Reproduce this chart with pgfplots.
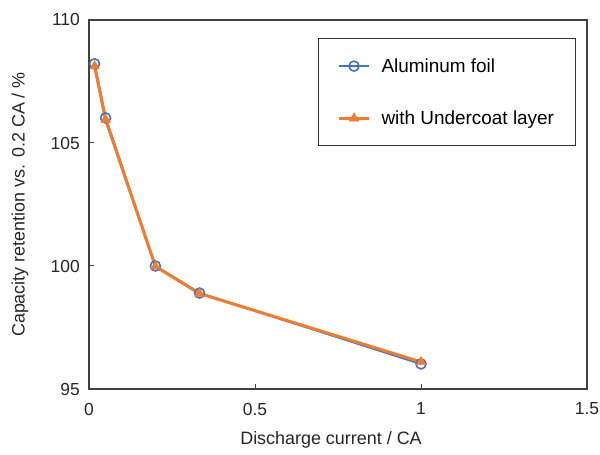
\documentclass[border=0pt]{standalone}
\usepackage{pgfplots}
\pgfplotsset{compat=1.18}
\usepackage{fontspec}
\setmainfont{Liberation Sans}
\definecolor{cblue}{HTML}{4472C4}
\definecolor{corange}{HTML}{ED7D31}
\begin{document}
\begin{tikzpicture}[x=1bp,y=1bp]
\begin{axis}[
  scale only axis,
  width=498bp, height=369bp,
  xmin=0, xmax=1.5, ymin=95, ymax=110,
  xtick={0,0.5,1,1.5}, ytick={95,100,105,110},
  xticklabels={0,0.5,1,1.5},
  tick align=inside, tick pos=left,
  major tick length=5bp,
  axis line style={line width=1.1bp, color=black!75},
  tick style={line width=1bp, color=black!75},
  /pgf/number format/assume math mode=true,
  ticklabel style={font=\fontsize{17.5}{20}\selectfont, color=black!85, inner sep=0pt},
  xticklabel style={anchor=center, yshift=-20bp},
  yticklabel style={anchor=east, xshift=-9bp},
  label style={font=\fontsize{18}{21}\selectfont, color=black!85},
  xlabel={Discharge current / CA},
  ylabel={Capacity retention vs. 0.2 CA / \%},
  xlabel style={at={(axis description cs:0.5,0)}, anchor=center, yshift=-51bp, xshift=-7bp},
  ylabel style={at={(axis description cs:0,0.5)}, anchor=center, yshift=69bp},
  legend style={at={(0.46,0.951)}, anchor=north west, draw=black!80, line width=0.9bp,
    font=\fontsize{19}{22}\selectfont, row sep=33bp, inner xsep=19bp, inner ysep=18bp,
    /tikz/every odd column/.append style={column sep=9bp}},
  legend cell align=left,
  legend image code/.code={\draw[#1] (0bp,0bp) -- (30bp,0bp); \draw[#1, only marks] plot coordinates {(15bp,0bp)};},
]
\addplot[color=cblue, line width=2.2bp, mark=o, mark size=5bp, mark options={fill=white, line width=1.6bp}]
  coordinates {(0.0167,108.22) (0.05,106.02) (0.2,100.0) (0.333,98.9) (1,96.02)};
\addlegendentry{Aluminum foil}
\addplot[color=corange, line width=3bp, mark=triangle*, mark size=5.5bp, mark options={line width=0.5bp}]
  coordinates {(0.0167,108.12) (0.05,105.95) (0.2,99.98) (0.333,98.88) (1,96.1)};
\addlegendentry{with Undercoat layer}
\end{axis}
\path[use as bounding box] (-89bp,-66bp) rectangle (511bp,389bp);
\end{tikzpicture}
\end{document}
